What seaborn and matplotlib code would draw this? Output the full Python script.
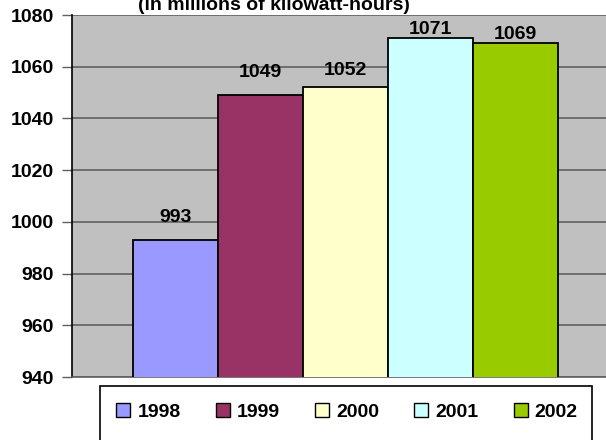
import pandas as pd
import matplotlib
matplotlib.use("Agg")
import matplotlib.pyplot as plt
import seaborn as sns
from matplotlib.patches import Patch, Rectangle


# datos
years = ["1998", "1999", "2000", "2001", "2002"]
values = [993, 1049, 1052, 1071, 1069]
colors = ["#9999FF", "#993366", "#FFFFCC", "#CCFFFF", "#99CC00"]
y_ticks = [940, 960, 980, 1000, 1020, 1040, 1060, 1080]
subtitle = "(in millions of kilowatt-hours)"

# separacion de etiquetas sobre las barras (px), como en el original
label_gap_px = [18, 18, 12.5, 4, 4]

df = pd.DataFrame({"year": years, "value": values})

sns.set_style("white")
plt.rcParams["font.family"] = ["Liberation Sans", "DejaVu Sans"]
plt.rcParams["font.weight"] = "bold"
plt.rcParams["text.color"] = "black"

fig = plt.figure(figsize=(6.06, 4.40), dpi=100)

W, H = 606, 440
ax = fig.add_axes([72 / W, 1 - 377 / H, (619 - 72) / W, (377 - 15) / H])
ax.set_facecolor("#C0C0C0")

sns.barplot(
    data=df,
    x="year",
    y="value",
    hue="year",
    palette=colors,
    saturation=1,
    width=1,
    dodge=False,
    edgecolor="black",
    linewidth=1.3,
    legend=False,
    ax=ax,
    zorder=3
)

ax.set_ylim(940, 1080)
ax.set_xlim(-1.22, 5.22)
ax.set_yticks(y_ticks)
ax.set_yticklabels([str(t) for t in y_ticks], fontsize=14, fontweight="bold",
                   color="black")
ax.set_xticks([])
ax.set_xlabel("")
ax.set_ylabel("")

ax.yaxis.grid(True, color="#606060", linewidth=1.2, zorder=0)
ax.set_axisbelow(True)
ax.tick_params(axis="y", length=7, width=1, color="#606060", pad=6, left=True)

for side in ["top", "right"]:
    ax.spines[side].set_visible(False)
ax.spines["left"].set_color("black")
ax.spines["left"].set_linewidth(1.2)
ax.spines["bottom"].set_color("#606060")
ax.spines["bottom"].set_linewidth(1.2)

# etiquetas de valores
for i, v in enumerate(values):
    ax.annotate(
        str(v),
        xy=(i, v),
        xytext=(0, label_gap_px[i] * 0.72),
        textcoords="offset points",
        ha="center",
        va="baseline",
        fontsize=14,
        fontweight="bold",
        color="black"
    )

# subtitulo (cortado arriba, igual que la imagen original)
fig.text(274 / W, 1 - 10 / H, subtitle, ha="center", va="baseline",
         fontsize=14, fontweight="bold", color="black")

# leyenda
frame = Rectangle((100 / W, -10 / H), (592 - 100) / W, (440 + 10 - 386) / H,
                  transform=fig.transFigure, facecolor="white",
                  edgecolor="black", linewidth=1.2)
fig.patches.append(frame)

handles = [Patch(facecolor=c, edgecolor="black", linewidth=1) for c in colors]
fig.legend(
    handles,
    years,
    loc="center",
    bbox_to_anchor=(347 / W, 1 - 412 / H),
    ncol=5,
    frameon=False,
    prop={"size": 14, "weight": "bold"},
    handlelength=0.72,
    handleheight=0.72,
    handletextpad=0.35,
    columnspacing=1.82
)

plt.savefig("out.png", dpi=100)
plt.close()
